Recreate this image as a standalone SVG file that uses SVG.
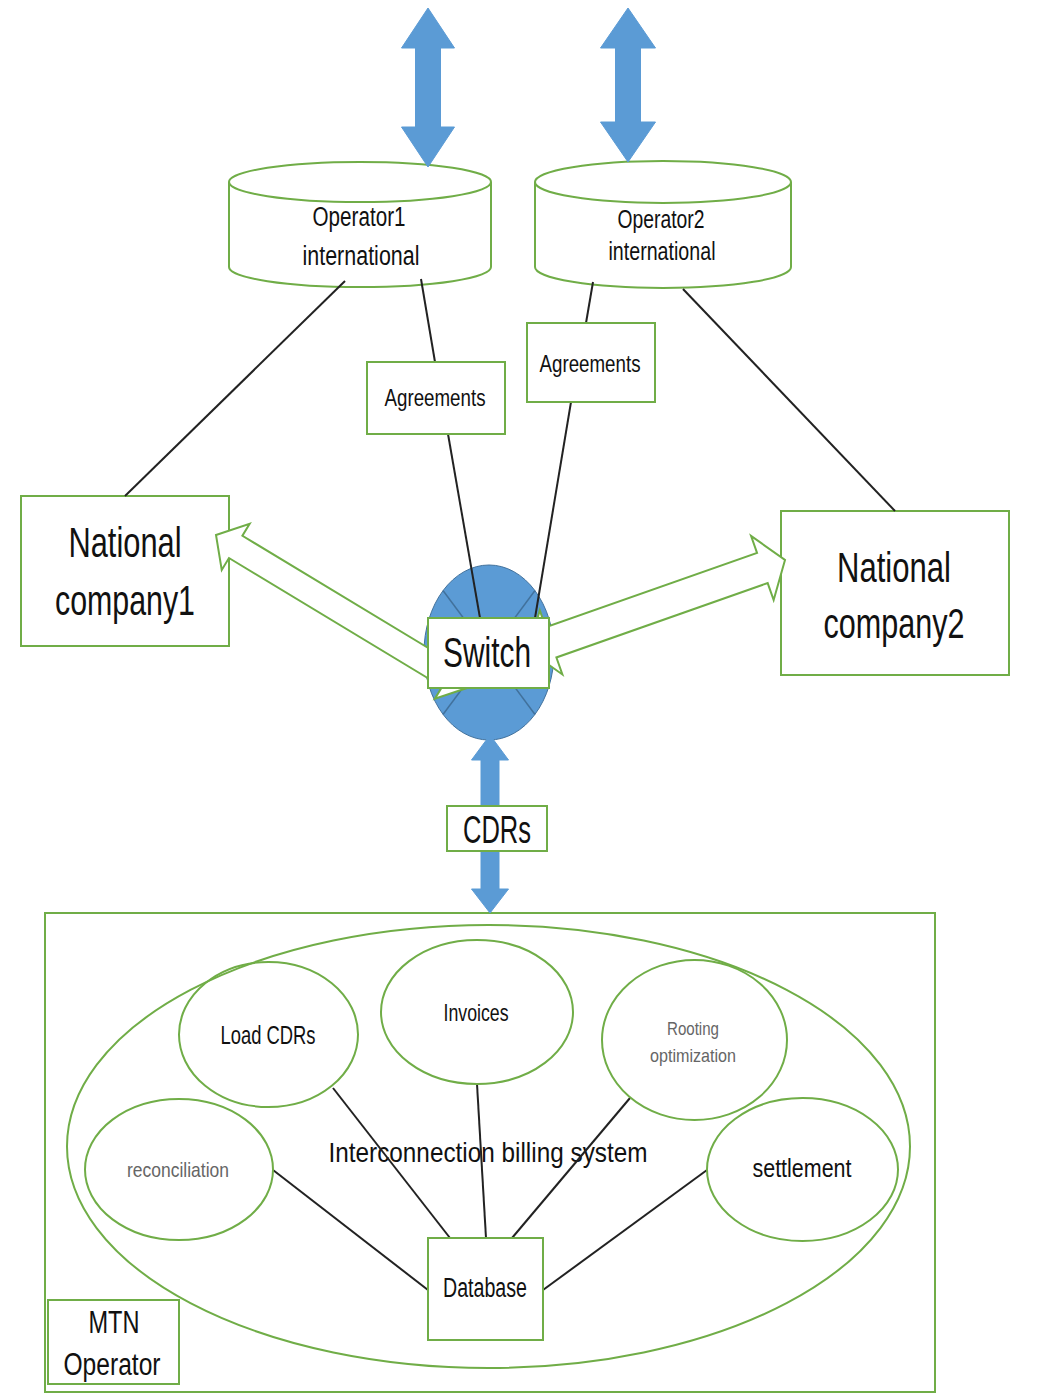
<svg xmlns="http://www.w3.org/2000/svg" width="1052" height="1395" viewBox="0 0 1052 1395">
<defs>
<style>
.g{fill:#fff;stroke:#70ad47;stroke-width:2}
.gn{fill:none;stroke:#70ad47;stroke-width:2}
.ln{stroke:#222;stroke-width:2;fill:none}
.blue{fill:#5b9bd5;stroke:#5b9bd5;stroke-width:1}
.ga{fill:#fff;stroke:#70ad47;stroke-width:2;stroke-linejoin:miter}
text{font-family:"Liberation Sans",Arial,sans-serif;fill:#111;text-anchor:middle}
.gray{fill:#666}
</style>
</defs>
<rect width="1052" height="1395" fill="#fff"/>

<g id="mtn-container">
<rect class="gn" x="45" y="913" width="890" height="479"/>
</g>
<g id="billing-system">
<ellipse class="gn" cx="488.5" cy="1146.5" rx="421.5" ry="221.5"/>
<text x="488" y="1162" font-size="28" textLength="319" lengthAdjust="spacingAndGlyphs">Interconnection billing system</text>
</g>
<g id="switch-hub">
<ellipse cx="489" cy="652.5" rx="65" ry="87.5" fill="#5b9bd5" stroke="#41719c" stroke-width="1"/>
<line x1="443" y1="590.5" x2="535" y2="714.5" stroke="#41719c" stroke-width="1.5"/>
<line x1="535" y1="590.5" x2="443" y2="714.5" stroke="#41719c" stroke-width="1.5"/>
</g>
<g id="national-company1">
<rect class="g" x="21" y="496" width="208" height="150"/>
<text x="125" y="557" font-size="42" textLength="113" lengthAdjust="spacingAndGlyphs">National</text>
<text x="125" y="615" font-size="42" textLength="140" lengthAdjust="spacingAndGlyphs">company1</text>
</g>
<g id="national-company2">
<rect class="g" x="781" y="511" width="228" height="164"/>
<text x="894" y="582" font-size="42" textLength="114" lengthAdjust="spacingAndGlyphs">National</text>
<text x="894" y="638" font-size="42" textLength="141" lengthAdjust="spacingAndGlyphs">company2</text>
</g>
<g id="operator1">
<path class="g" d="M229,182 V267 A131,20 0 0 0 491,267 V182"/>
<ellipse class="g" cx="360" cy="182" rx="131" ry="20"/>
<text x="359" y="226" font-size="27" textLength="93" lengthAdjust="spacingAndGlyphs">Operator1</text>
<text x="361" y="265" font-size="27" textLength="117" lengthAdjust="spacingAndGlyphs">international</text>
</g>
<g id="operator2">
<path class="g" d="M535,182 V267 A128,21 0 0 0 791,267 V182"/>
<ellipse class="g" cx="663" cy="182" rx="128" ry="21"/>
<text x="661" y="228" font-size="25" textLength="87" lengthAdjust="spacingAndGlyphs">Operator2</text>
<text x="662" y="260" font-size="25" textLength="107" lengthAdjust="spacingAndGlyphs">international</text>
</g>

<g id="connectors">
<line class="ln" x1="345" y1="281" x2="125" y2="496"/>
<line class="ln" x1="421" y1="279" x2="435" y2="362"/>
<line class="ln" x1="448" y1="434" x2="480" y2="618" stroke-width="1.8"/>
<line class="ln" x1="593" y1="282" x2="586" y2="323"/>
<line class="ln" x1="571" y1="402" x2="535" y2="618" stroke-width="1.8"/>
<line class="ln" x1="683" y1="289" x2="895" y2="511"/>
<line class="ln" x1="273" y1="1170" x2="428" y2="1290"/>
<line class="ln" x1="333" y1="1088" x2="450" y2="1238"/>
<line class="ln" x1="477" y1="1084" x2="486" y2="1238"/>
<line class="ln" x1="630" y1="1098" x2="512" y2="1238"/>
<line class="ln" x1="707" y1="1170" x2="543" y2="1290"/>
<polygon class="blue" points="428,8 454.5,48 440.5,48 440.5,127 454.5,127 428,167 401.5,127 415.5,127 415.5,48 401.5,48"/>
<polygon class="blue" points="628,8 655.5,48 640.5,48 640.5,122 655.5,122 628,162 600.5,122 615.5,122 615.5,48 600.5,48"/>
<polygon class="blue" points="490,735 508.5,760 499,760 499,889 508.5,889 490,913 471.5,889 481,889 481,760 471.5,760"/>
<polygon class="ga" transform="translate(216,535) rotate(31.13)" points="0,0 23,-27 23,-13 272,-13 272,-27 295,0 272,27 272,13 23,13 23,27"/>
<polygon class="ga" transform="translate(785,560) rotate(160.6)" points="0,0 24,-34 24,-16 248,-16 248,-34 272,0 248,34 248,16 24,16 24,34"/>
</g>

<g id="agreements1">
<rect class="g" x="367" y="362" width="138" height="72"/>
<text x="435" y="406" font-size="23" textLength="101" lengthAdjust="spacingAndGlyphs">Agreements</text>
</g>
<g id="agreements2">
<rect class="g" x="527" y="323" width="128" height="79"/>
<text x="590" y="372" font-size="23" textLength="101" lengthAdjust="spacingAndGlyphs">Agreements</text>
</g>
<g id="switch">
<rect class="g" x="428" y="618" width="121" height="70"/>
<text x="487" y="667" font-size="42" textLength="88" lengthAdjust="spacingAndGlyphs">Switch</text>
</g>
<g id="cdrs">
<rect class="g" x="447" y="806" width="100" height="45"/>
<text x="497" y="843" font-size="39" textLength="68" lengthAdjust="spacingAndGlyphs">CDRs</text>
</g>
<g id="load-cdrs">
<ellipse class="gn" cx="268.5" cy="1034.5" rx="89.5" ry="72.5"/>
<text x="268" y="1044" font-size="25" textLength="95" lengthAdjust="spacingAndGlyphs">Load CDRs</text>
</g>
<g id="invoices">
<ellipse class="gn" cx="477" cy="1012" rx="96" ry="72"/>
<text x="476" y="1021" font-size="24" textLength="65" lengthAdjust="spacingAndGlyphs">Invoices</text>
</g>
<g id="rooting-optimization">
<ellipse class="gn" cx="694.5" cy="1040" rx="92.5" ry="80"/>
<text class="gray" x="693" y="1035" font-size="19" textLength="52" lengthAdjust="spacingAndGlyphs">Rooting</text>
<text class="gray" x="693" y="1062" font-size="19" textLength="86" lengthAdjust="spacingAndGlyphs">optimization</text>
</g>
<g id="reconciliation">
<ellipse class="gn" cx="179" cy="1169.5" rx="94" ry="70.5"/>
<text class="gray" x="178" y="1177" font-size="21" textLength="102" lengthAdjust="spacingAndGlyphs">reconciliation</text>
</g>
<g id="settlement">
<ellipse class="gn" cx="802.5" cy="1169.5" rx="95.5" ry="71.5"/>
<text x="802" y="1177" font-size="25" textLength="99" lengthAdjust="spacingAndGlyphs">settlement</text>
</g>
<g id="database">
<rect class="g" x="428" y="1238" width="115" height="102"/>
<text x="485" y="1297" font-size="27" textLength="84" lengthAdjust="spacingAndGlyphs">Database</text>
</g>
<g id="mtn-operator">
<rect class="g" x="48" y="1300" width="131" height="84"/>
<text x="114" y="1333" font-size="31" textLength="51" lengthAdjust="spacingAndGlyphs">MTN</text>
<text x="112" y="1375" font-size="31" textLength="97" lengthAdjust="spacingAndGlyphs">Operator</text>
</g>
</svg>
